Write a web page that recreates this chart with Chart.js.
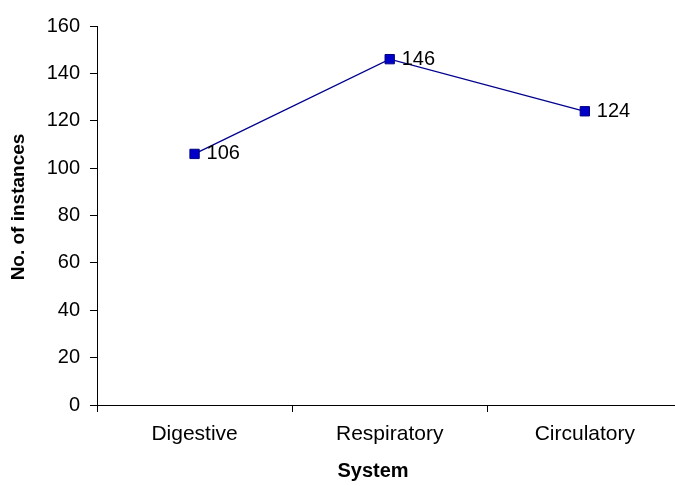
<!DOCTYPE html>
<html>
<head>
<meta charset="utf-8">
<style>
  html, body { margin: 0; padding: 0; background: #fff; overflow: hidden; }
  /* the plot runs slightly past the right edge, so the canvas is wider than the frame */
  #wrap { width: 675px; height: 486px; overflow: hidden; }
</style>
</head>
<body>
<div id="wrap"><canvas id="myChart" width="690" height="486"></canvas></div>
<script src="https://cdn.jsdelivr.net/npm/chart.js@4/dist/chart.umd.min.js"></script>
<script>
var systems = ['Digestive', 'Respiratory', 'Circulatory']
var instances = [106, 146, 124]
var yTicks = [0, 20, 40, 60, 80, 100, 120, 140, 160]
var xTitle = 'System'
var yTitle = 'No. of instances'

var font = 'Arial, "Liberation Sans", sans-serif'

// writes each value just to the right of its marker
var valueLabels = {
  id: 'valueLabels',
  afterDatasetsDraw: function(chart) {
    var ctx = chart.ctx
    var meta = chart.getDatasetMeta(0)
    ctx.save()
    ctx.font = '20px ' + font
    ctx.fillStyle = '#000'
    ctx.textAlign = 'left'
    ctx.textBaseline = 'middle'
    meta.data.forEach(function(pt, i) {
      ctx.fillText(instances[i], pt.x + 12, pt.y)
    })
    ctx.restore()
  }
}

// axis titles, placed the way the old spreadsheet chart had them
var axisTitles = {
  id: 'axisTitles',
  afterDraw: function(chart) {
    var ctx = chart.ctx
    ctx.save()
    ctx.fillStyle = '#000'
    ctx.textAlign = 'center'
    ctx.textBaseline = 'middle'
    ctx.font = 'bold 20px ' + font
    ctx.fillText(xTitle, 373, 471)
    ctx.translate(19, 207)
    ctx.rotate(-Math.PI / 2)
    ctx.font = 'bold 19px ' + font
    ctx.fillText(yTitle, 0, 0)
    ctx.restore()
  }
}

var ctx = document.getElementById('myChart').getContext('2d')

var chart = new Chart(ctx, {
  type: 'line',
  data: {
    labels: systems,
    datasets: [{
      data: instances,
      borderColor: '#00008C',
      borderWidth: 1.3,
      backgroundColor: '#0000C8',
      pointStyle: 'rect',
      pointRadius: 6.6,
      pointBorderColor: '#000080',
      pointBorderWidth: 1,
      fill: false,
      tension: 0
    }]
  },
  options: {
    responsive: false,
    animation: false,
    layout: { padding: { left: 0, top: 26, right: 6, bottom: 0 } },
    plugins: {
      legend: { display: false },
      tooltip: { enabled: false }
    },
    scales: {
      x: {
        offset: true,
        grid: { offset: true, drawOnChartArea: false, drawTicks: true, tickLength: 7, color: '#000' },
        border: { color: '#000', width: 1 },
        ticks: { color: '#000', font: { size: 21, family: font }, padding: 10 },
        afterFit: function(scale) { scale.height = 81 }
      },
      y: {
        min: 0,
        max: 160,
        afterBuildTicks: function(scale) {
          scale.ticks = yTicks.map(function(v) { return { value: v } })
        },
        grid: { drawOnChartArea: false, drawTicks: true, tickLength: 7, color: '#000' },
        border: { color: '#000', width: 1 },
        ticks: { color: '#000', font: { size: 20, family: font }, padding: 10 },
        afterFit: function(scale) { scale.width = 97 }
      }
    }
  },
  plugins: [valueLabels, axisTitles]
})
</script>
</body>
</html>
